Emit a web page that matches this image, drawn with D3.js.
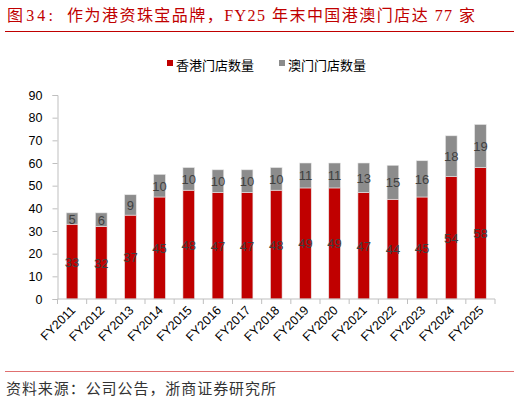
<!DOCTYPE html>
<html>
<head>
<meta charset="utf-8">
<script src="https://cdn.jsdelivr.net/npm/d3@7"></script>
<style>
  body { margin: 0; background: #fff; }
  svg { display: block; }
</style>
</head>
<body>
<div id="chart"></div>
<script>
let years = ['FY2011', 'FY2012', 'FY2013', 'FY2014', 'FY2015', 'FY2016', 'FY2017', 'FY2018',
    'FY2019', 'FY2020', 'FY2021', 'FY2022', 'FY2023', 'FY2024', 'FY2025'];
let hkStores = [33, 32, 37, 45, 48, 47, 47, 48, 49, 49, 47, 44, 45, 54, 58];
let macauStores = [5, 6, 9, 10, 10, 10, 10, 10, 11, 11, 13, 15, 16, 18, 19];
let seriesNames = ['香港门店数量', '澳门门店数量'];
let yTicks = [0, 10, 20, 30, 40, 50, 60, 70, 80, 90];

let width = 520, height = 402;
let cjk = '"Noto Sans CJK SC", "Liberation Sans", sans-serif';
let serif = '"Liberation Serif", "Noto Sans CJK SC", serif';
let colors = ['#c00000', '#8c8c8c'];

let $svg = d3.select('#chart').append('svg')
    .attr('width', width)
    .attr('height', height);

// title + rules
let $title = $svg.append('g')
    .attr('fill', '#c00000')
    .style('font-family', serif)
    .style('font-size', '16px');
$title.append('text')
    .attr('x', 7).attr('y', 21)
    .attr('textLength', 46).attr('lengthAdjust', 'spacing')
    .text('图34:');
$title.append('text')
    .attr('x', 67).attr('y', 21)
    .attr('textLength', 408).attr('lengthAdjust', 'spacing')
    .text('作为港资珠宝品牌，FY25 年末中国港澳门店达 77 家');
$svg.append('line')
    .attr('x1', 5).attr('x2', 514)
    .attr('y1', 31.5).attr('y2', 31.5)
    .attr('stroke', '#c00000')
    .attr('stroke-width', 1);
$svg.append('line')
    .attr('x1', 5).attr('x2', 514)
    .attr('y1', 371.5).attr('y2', 371.5)
    .attr('stroke', '#e07070')
    .attr('stroke-width', 1);
$svg.append('text')
    .attr('x', 6)
    .attr('y', 394)
    .attr('fill', '#333')
    .attr('textLength', 270).attr('lengthAdjust', 'spacing')
    .style('font-family', serif)
    .style('font-size', '15px')
    .text('资料来源：公司公告，浙商证券研究所');

// scales
let margin = {left: 57.5, right: 25, top: 95, bottom: 103};
let x = d3.scaleBand()
    .domain(years)
    .range([margin.left, width - margin.right])
    .paddingInner(0.6)
    .paddingOuter(0.3);
let y = d3.scaleLinear()
    .domain([0, 90])
    .range([height - margin.bottom, margin.top]);

// stacked data
let rows = years.map((yr, i) => ({year: yr, hk: hkStores[i], mo: macauStores[i]}));
let stack = d3.stack().keys(['hk', 'mo'])(rows);

let $layers = $svg.append('g').selectAll('g')
    .data(stack)
    .join('g')
    .attr('fill', (d, i) => colors[i]);
$layers.selectAll('rect')
    .data(d => d)
    .join('rect')
    .attr('x', d => x(d.data.year))
    .attr('width', x.bandwidth())
    .attr('y', d => y(d[1]))
    .attr('height', d => y(d[0]) - y(d[1]))
    .attr('stroke', '#e8e8e8')
    .attr('stroke-width', 0.6);

// value labels
$layers.selectAll('text')
    .data(d => d)
    .join('text')
    .attr('x', d => x(d.data.year) + x.bandwidth() / 2)
    .attr('y', d => (y(d[0]) + y(d[1])) / 2 + 5)
    .attr('text-anchor', 'middle')
    .attr('fill', '#404040')
    .style('font-family', '"Liberation Sans", Arial, sans-serif')
    .style('font-size', '13px')
    .text(d => d[1] - d[0]);

// y axis
let yAxis = d3.axisLeft(y)
    .tickValues(yTicks)
    .tickSize(5)
    .tickPadding(10);
let $y = $svg.append('g')
    .attr('transform', `translate(${margin.left},0)`)
    .call(yAxis);
$y.select('.domain').attr('stroke', '#bfbfbf');
$y.selectAll('.tick line').attr('stroke', '#bfbfbf');
$y.selectAll('.tick text')
    .attr('fill', '#000')
    .style('font-family', '"Liberation Sans", Arial, sans-serif')
    .style('font-size', '12.5px');

// x axis: ticks sit between categories
let xAxisY = y(0);
let $x = $svg.append('g');
$x.append('line')
    .attr('x1', margin.left).attr('x2', width - margin.right)
    .attr('y1', xAxisY).attr('y2', xAxisY)
    .attr('stroke', '#bfbfbf');
let step = x.step();
let boundaries = years.map((yr, i) => margin.left + i * step).concat([width - margin.right]);
$x.selectAll('line.tk')
    .data(boundaries)
    .join('line')
    .attr('class', 'tk')
    .attr('x1', d => d).attr('x2', d => d)
    .attr('y1', xAxisY).attr('y2', xAxisY + 5)
    .attr('stroke', '#bfbfbf');
$x.selectAll('text')
    .data(years)
    .join('text')
    .attr('text-anchor', 'end')
    .attr('transform', d => `translate(${x(d) + x.bandwidth() / 2 + 4},${xAxisY + 12}) rotate(-45)`)
    .attr('fill', '#000')
    .style('font-family', '"Liberation Sans", Arial, sans-serif')
    .style('font-size', '12.5px')
    .text(d => d);

// legend
let legendItems = [{x: 167, name: seriesNames[0], c: colors[0]}, {x: 279, name: seriesNames[1], c: colors[1]}];
let $legend = $svg.append('g').selectAll('g')
    .data(legendItems)
    .join('g')
    .attr('transform', d => `translate(${d.x},66)`);
$legend.append('rect')
    .attr('x', 0).attr('y', -6)
    .attr('width', 6).attr('height', 6)
    .attr('fill', d => d.c);
$legend.append('text')
    .attr('x', 9)
    .attr('y', 4)
    .attr('fill', '#000')
    .style('font-family', cjk)
    .style('font-size', '13px')
    .text(d => d.name);
</script>
</body>
</html>
